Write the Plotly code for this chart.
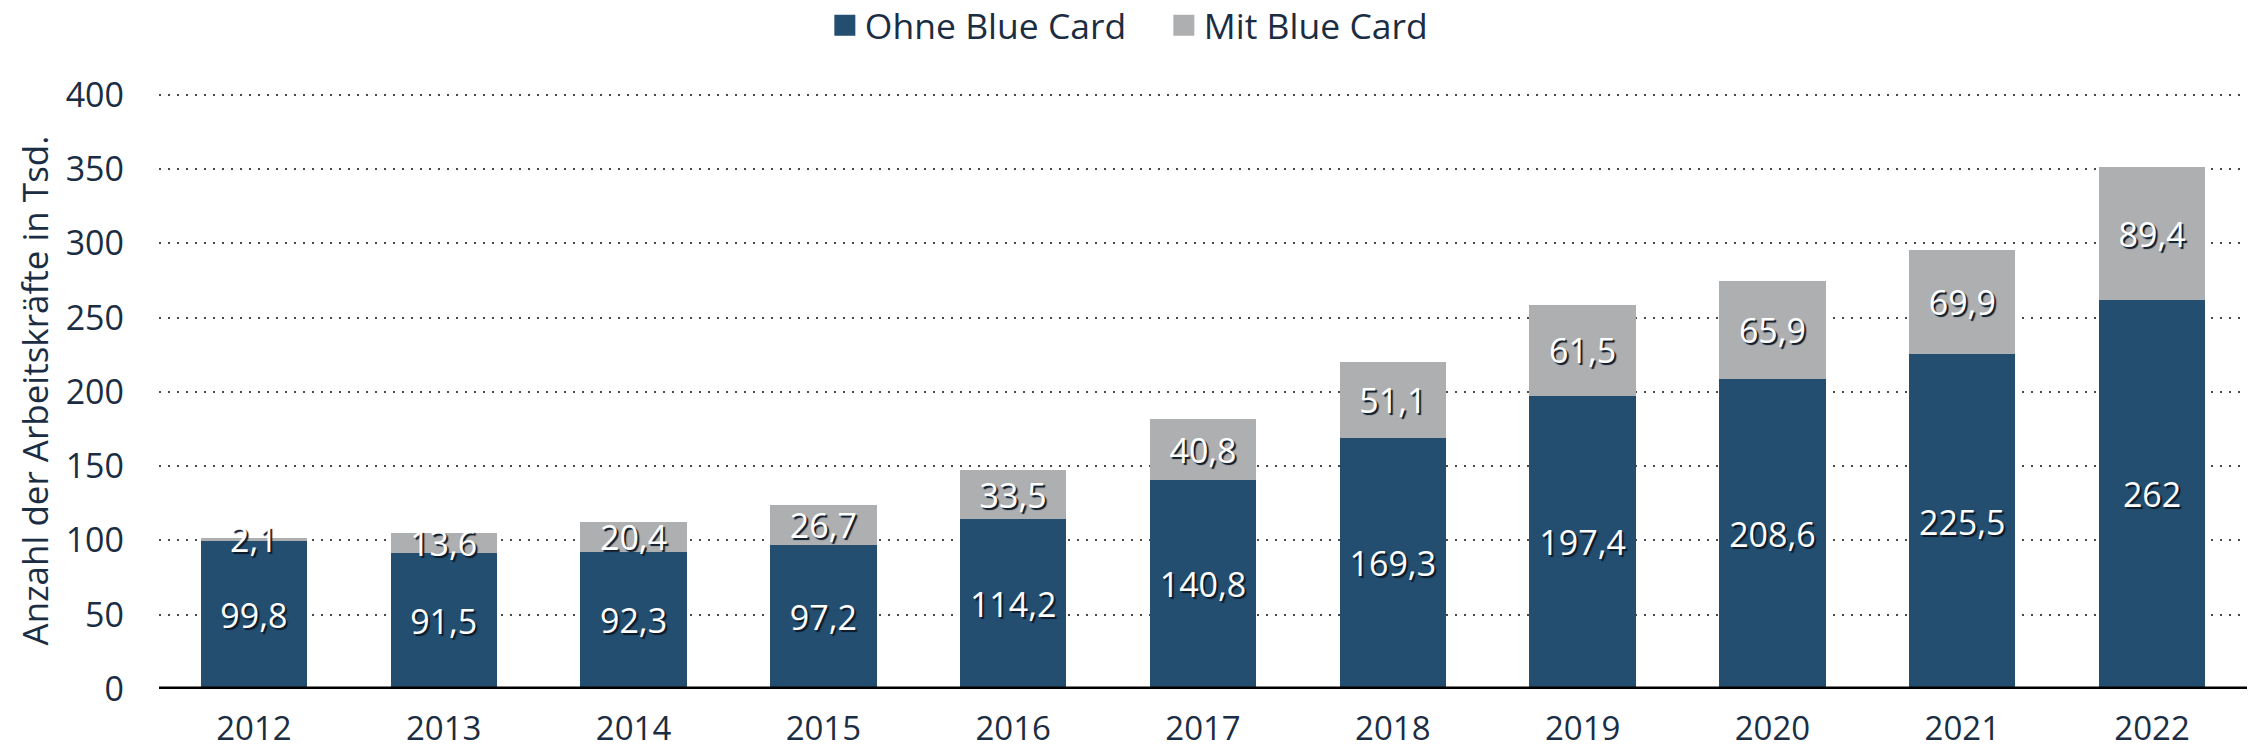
import plotly.graph_objects as go

years = ["2012", "2013", "2014", "2015", "2016", "2017", "2018", "2019", "2020", "2021", "2022"]
ohne_blue_card = [99.8, 91.5, 92.3, 97.2, 114.2, 140.8, 169.3, 197.4, 208.6, 225.5, 262]
mit_blue_card = [2.1, 13.6, 20.4, 26.7, 33.5, 40.8, 51.1, 61.5, 65.9, 69.9, 89.4]
y_ticks = [0, 50, 100, 150, 200, 250, 300, 350, 400]

x_pos = list(range(len(years)))

def fmt(v):
    s = f"{v:.1f}".replace(".", ",")
    if s.endswith(",0"):
        s = s[:-2]
    return s

DARK = "#234E70"
GREY = "#AEAFB1"
TXT = "#1B2D42"
FONT = "Open Sans"
label_font = dict(family=FONT, size=34, color="white", shadow="2px 2px 1px #0d1a28")

fig = go.Figure()
fig.add_trace(go.Bar(
    x=x_pos, y=ohne_blue_card, name="Ohne Blue Card", showlegend=False,
    marker=dict(color=DARK, line=dict(width=0)),
    text=[fmt(v) for v in ohne_blue_card], textposition="inside",
    insidetextanchor="middle", textfont=label_font, width=0.56,
))
fig.add_trace(go.Bar(
    x=x_pos, y=mit_blue_card, name="Mit Blue Card", showlegend=False,
    marker=dict(color=GREY, line=dict(width=0)),
    text=[fmt(v) for v in mit_blue_card], textposition="inside",
    insidetextanchor="middle", textfont=label_font, width=0.56,
))
# legend entries (large square swatches)
for nm, col in [("Ohne Blue Card", DARK), ("Mit Blue Card", GREY)]:
    fig.add_trace(go.Scatter(
        x=[None], y=[None], mode="markers", name=nm,
        marker=dict(symbol="square", size=16, color=col, line=dict(color=col, width=5)),
    ))

fig.update_layout(
    barmode="stack",
    width=2252, height=755,
    margin=dict(l=159, r=5, t=92, b=66, autoexpand=False),
    paper_bgcolor="white", plot_bgcolor="white",
    font=dict(family=FONT, size=34, color=TXT),
    uniformtext=dict(minsize=34, mode="show"),
    showlegend=True,
    legend=dict(
        orientation="h", xref="container", yref="container",
        x=0.5168, xanchor="center", y=0.966, yanchor="middle",
        font=dict(family=FONT, size=35.5, color=TXT),
        itemwidth=30, entrywidth=294, entrywidthmode="pixels",
        traceorder="normal",
    ),
    xaxis=dict(
        tickmode="array", tickvals=x_pos, ticktext=years,
        range=[-0.5, 10.5],
        showgrid=False, zeroline=False,
        showline=False,
        ticks="", ticklabelstandoff=17,
        tickfont=dict(family=FONT, size=33, color=TXT),
    ),
    yaxis=dict(
        range=[0, 402], tickvals=y_ticks,
        showgrid=True, gridcolor="#4a4a4a", gridwidth=2,
        griddash="2px,7px",
        zeroline=False, showline=False,
        ticks="", ticklabelstandoff=34,
        tickfont=dict(family=FONT, size=34, color=TXT),
        title=dict(text="Anzahl der Arbeitskräfte in Tsd.", standoff=6,
                   font=dict(family=FONT, size=35, color=TXT)),
    ),
)

fig.add_shape(type="line", xref="paper", yref="y", x0=0, x1=1, y0=0, y1=0,
              line=dict(color="black", width=5), layer="above")

fig.write_html(
    "out.html",
    config={"displayModeBar": False},
    post_script="document.body.style.margin='0';document.body.style.overflow='hidden';",
)
